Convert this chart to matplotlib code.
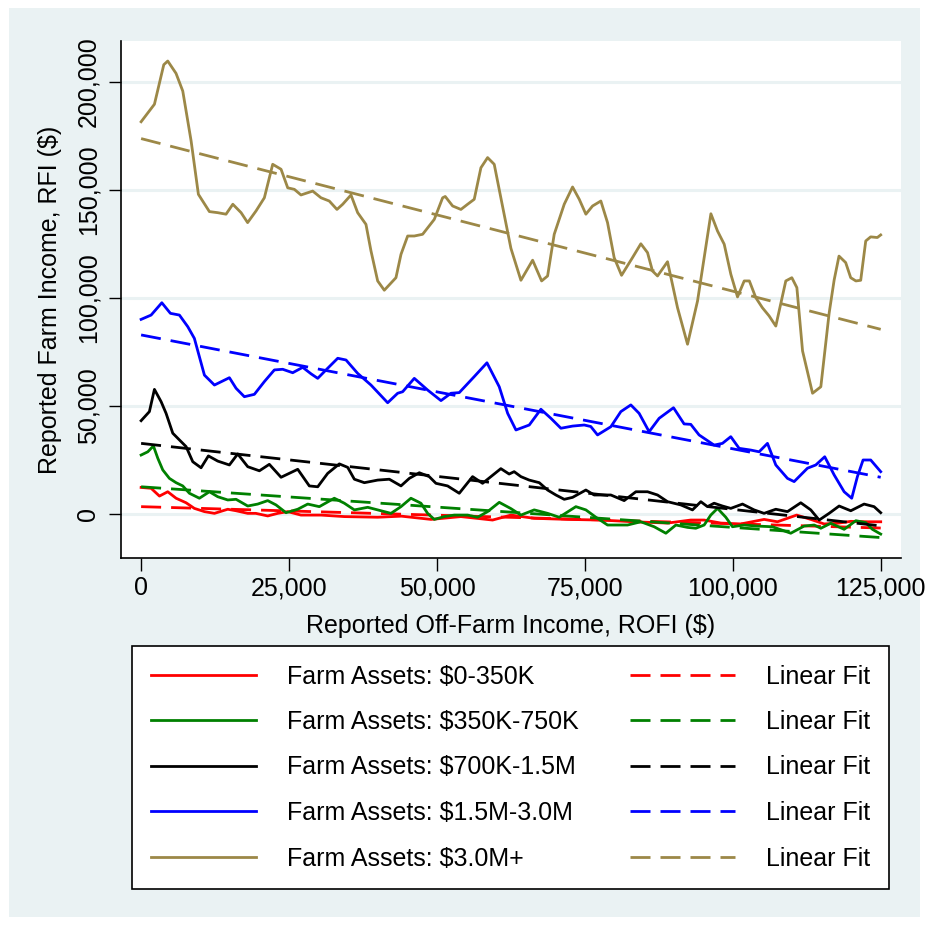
import matplotlib.pyplot as plt
from matplotlib.patches import Rectangle

plt.rcParams['font.family'] = ['Liberation Sans', 'DejaVu Sans']

# smoothed RFI by ROFI, one curve per farm-asset class
red_x = [0, 1690, 3100, 4500, 5910, 7600, 9000, 10700, 12390, 14640, 16050, 18020, 19380,
         21400, 23090, 24780, 27020, 30400, 34340, 39980, 44000, 48990, 54050, 59400, 62500,
         66440, 72080, 77700, 83330, 88970, 92900, 95160, 97990, 101370, 105290, 107550,
         110800, 113180, 115420, 117670, 119940, 122750, 125000]
red_y = [12300, 11900, 8300, 10300, 7300, 5200, 2600, 1100, 300, 2200, 1500, 300, 300,
         -900, 300, 1100, -500, -500, -1200, -1500, -1000, -2500, -1200, -2800, -500,
         -2000, -2500, -2800, -3600, -4200, -2800, -2800, -4200, -4600, -2500, -3600,
         -500, -2500, -4600, -4300, -3400, -3600, -3600]

green_x = [0, 1130, 2080, 2820, 3660, 4780, 5910, 7040, 8160, 9850, 11540, 12950, 14640,
           16050, 18020, 19710, 21400, 22800, 24490, 26470, 28160, 30120, 32650, 34340,
           36040, 38300, 39980, 42230, 43920, 45600, 47290, 48420, 49550, 51240, 52930,
           55180, 56870, 58560, 60530, 62500, 64190, 66440, 68700, 70660, 73480, 75170,
           76860, 78830, 82210, 84460, 86710, 88690, 90380, 92350, 93750, 95160, 96280,
           97420, 98820, 99950, 101930, 104200, 106700, 109800, 112050, 113750, 114880,
           116560, 118820, 120800, 122470, 123600, 125000]
green_y = [27300, 28800, 31500, 25800, 20400, 16500, 14500, 13000, 9600, 7300, 10300, 8000,
           6500, 6800, 3700, 4600, 6200, 4200, 600, 2200, 4600, 3400, 7300, 5000,
           1900, 3100, 1900, 300, 3400, 7300, 5000, 300, -2500, -1200, -500,
           -500, -1500, 1100, 5400, 2500, -500, 1900, 300, -1500, 3400, 1900,
           -1500, -5100, -5100, -3600, -5900, -8900, -5100, -6200, -6600, -5100, -500,
           2600, -1500, -5900, -5100, -5600, -5900, -8900, -5600, -5100, -6600,
           -4300, -7100, -3100, -4000, -7100, -9300]

black_x = [0, 1400, 2250, 3380, 4220, 5350, 6470, 7600, 8730, 10130, 11370, 12950, 14920,
           16330, 18020, 19990, 21670, 23650, 26470, 28430, 29850, 31530, 33500, 34910,
           36040, 37730, 39980, 41950, 43920, 45330, 47020, 48700, 49830, 51800, 53770,
           56020, 57710, 60800, 62200, 63050, 64190, 65600, 67290, 68700, 70100, 71510,
           72920, 75170, 76580, 79390, 81640, 83620, 85590, 87280, 88970, 91220, 93190,
           94600, 95720, 96840, 98250, 99660, 101640, 103600, 105290, 107270, 109240,
           111490, 113180, 114600, 116280, 117970, 119940, 122190, 123880, 125000]
black_y = [43200, 47400, 57700, 52000, 46600, 37400, 34300, 31200, 24200, 21400, 26900,
           24500, 22700, 27800, 21900, 20000, 23000, 17000, 20700, 13000, 12600, 18800,
           23200, 21600, 16100, 14500, 15700, 16100, 13000, 16500, 19100, 17300, 14200,
           13000, 9600, 17300, 14200, 21000, 18500, 19600, 17300, 15700, 14500, 11100,
           8800, 6800, 7700, 11100, 8800, 8800, 6200, 10300, 10300, 8800, 5700, 4200,
           1900, 5700, 3400, 5000, 3700, 2600, 4600, 1900, 300, 2200, 1100, 5200, 1900,
           -2800, 300, 3700, 1500, 4600, 3400, 600]

blue_x = [0, 1690, 3500, 4950, 6470, 7890, 9000, 9850, 10700, 12390, 14920, 16050, 17450,
          19140, 20830, 22520, 23930, 25620, 27310, 28720, 29850, 31250, 33230, 34630,
          36600, 38850, 41670, 43360, 44200, 46170, 48420, 50680, 52370, 53770, 56300,
          58450, 60530, 61950, 63350, 65600, 67570, 69260, 70950, 72920, 74890, 76000,
          77140, 79390, 81080, 82770, 84170, 85860, 87550, 89980, 91770, 92900, 94300,
          96840, 98250, 99660, 101070, 103040, 104450, 105860, 107270, 109240, 110370,
          112620, 114030, 115540, 117130, 118820, 120100, 121060, 122020, 123310, 125000]
blue_y = [90100, 92100, 97800, 92900, 92100, 86700, 81300, 72800, 64300, 59700, 63100,
          58200, 54300, 55400, 61300, 66700, 67000, 65400, 67900, 64900, 62800, 66700,
          72100, 71300, 65100, 59700, 51500, 55900, 56600, 62800, 57400, 52500, 55900,
          56200, 63600, 70000, 58900, 46600, 38900, 41200, 48500, 44300, 39700, 40700,
          41200, 40500, 36600, 40400, 47400, 50500, 46600, 38100, 44300, 49200, 41700,
          41500, 36600, 31900, 32700, 35800, 30400, 29600, 28800, 32700, 22700, 16500,
          15000, 21200, 22700, 26500, 18100, 10300, 7300, 17300, 25000, 25000, 19600]

gold_x = [0, 2250, 3830, 4500, 5900, 7040, 8450, 9680, 11540, 12950, 14350, 15500, 16900,
          18000, 19420, 20830, 22240, 23650, 24780, 25900, 27020, 29000, 30400, 31800,
          33100, 34070, 35470, 36600, 38000, 38850, 39980, 41100, 43070, 43920, 45050,
          46170, 47580, 49550, 50960, 51400, 52650, 54050, 55180, 56300, 57430, 58560,
          59680, 60800, 62500, 64190, 66170, 67690, 68700, 69820, 71510, 72920, 74050,
          75170, 76300, 77700, 78830, 79950, 81200, 83050, 84460, 85590, 86430, 87280,
          88970, 90660, 92350, 94040, 96300, 97420, 98550, 99670, 100800, 101930, 102800,
          103900, 105000, 106140, 107270, 108960, 109980, 110830, 111790, 113480, 114880,
          116280, 117130, 117950, 119080, 119930, 120800, 121620, 122470, 123300, 124430,
          125000]
gold_y = [181600, 189700, 208000, 209700, 204000, 195800, 172700, 148000, 140000, 139500,
          138800, 143400, 139500, 134900, 140300, 146400, 161900, 159600, 151000, 150300,
          147700, 149500, 146400, 144900, 141000, 143400, 147700, 139500, 134100, 121800,
          107900, 103600, 109400, 120200, 128700, 128700, 129500, 136400, 146400, 147000,
          142600, 141000, 143400, 145700, 160300, 165000, 161900, 146400, 123000, 108200,
          117500, 107900, 110200, 129500, 143400, 151400, 145700, 138800, 142600, 144900,
          134900, 118700, 110500, 118700, 125100, 121000, 112500, 110200, 116800, 95500,
          78600, 98600, 139000, 131000, 124900, 111000, 100500, 107900, 107900, 100100,
          95500, 91700, 87000, 107900, 109400, 104800, 75500, 55900, 58900, 92900, 108300,
          119400, 116400, 109400, 107900, 108200, 126400, 128300, 128000, 129200]

# linear fits: value at ROFI = 0 and at ROFI = 125,000
fit_x = [0, 125000]
red_fit = [3400, -6500]
green_fit = [12600, -10900]
black_fit = [32700, -5500]
blue_fit = [82900, 17000]
gold_fit = [173800, 85500]

labels = ["Farm Assets: $0-350K", "Farm Assets: $350K-750K", "Farm Assets: $700K-1.5M",
          "Farm Assets: $1.5M-3.0M", "Farm Assets: $3.0M+"]
colors = ["#FF0000", "#008000", "#000000", "#0000FF", "#9C8847"]
xticks = [0, 25000, 50000, 75000, 100000, 125000]
yticks = [0, 50000, 100000, 150000, 200000]

bg = "#EAF2F3"
W, H = 928, 925
fig = plt.figure(figsize=(W / 100, H / 100), dpi=100, facecolor="white")
fig.patches.append(Rectangle((9 / W, 8 / H), 911 / W, 909 / H, transform=fig.transFigure,
                             facecolor=bg, edgecolor="none", zorder=-10))

ax = fig.add_axes([121 / W, 1 - 558 / H, 780 / W, 517 / H])
ax.set_facecolor("white")

series = [(red_x, red_y, red_fit), (green_x, green_y, green_fit), (black_x, black_y, black_fit),
          (blue_x, blue_y, blue_fit), (gold_x, gold_y, gold_fit)]
solid_handles, fit_handles = [], []
for (xs, ys, fit), c, lab in zip(series, colors, labels):
    h, = ax.plot(xs, ys, color=c, lw=2.0, label=lab, solid_joinstyle="round", zorder=3)
    f, = ax.plot(fit_x, fit, color=c, lw=2.0, dashes=(7.2, 3.6), label="Linear Fit", zorder=3)
    solid_handles.append(h)
    fit_handles.append(f)

ax.set_xlim(-3400, 128430)
ax.set_ylim(-20370, 218980)
ax.set_xticks(xticks)
ax.set_yticks(yticks)
ax.set_xticklabels([f"{v:,}" for v in xticks])
ax.set_yticklabels([f"{v:,}" for v in yticks], rotation=90, va="center")
ax.grid(axis="y", color=bg, lw=2.2, zorder=0)
ax.set_axisbelow(True)
for s in ["top", "right"]:
    ax.spines[s].set_visible(False)
for s in ["left", "bottom"]:
    ax.spines[s].set_linewidth(1.2)
ax.tick_params(axis="both", direction="out", length=9, width=1, labelsize=18)
ax.tick_params(axis="x", pad=4)
ax.tick_params(axis="y", pad=6)
ax.set_xlabel("Reported Off-Farm Income, ROFI ($)", fontsize=18, labelpad=10)
ax.set_ylabel("Reported Farm Income, RFI ($)", fontsize=18, labelpad=10)

leg = fig.legend(solid_handles + fit_handles, labels + ["Linear Fit"] * 5, ncol=2,
                 loc="center", bbox_to_anchor=(132 / W, 1 - 887 / H, 757 / W, 239 / H),
                 mode="expand", borderaxespad=0, fontsize=18, handlelength=4.2,
                 handletextpad=1.25, labelspacing=0.86, borderpad=0.75, fancybox=False,
                 frameon=True, edgecolor="black", facecolor="white", framealpha=1)
leg.get_frame().set_linewidth(1.2)

fig.savefig("out.png", dpi=100, facecolor="white")
